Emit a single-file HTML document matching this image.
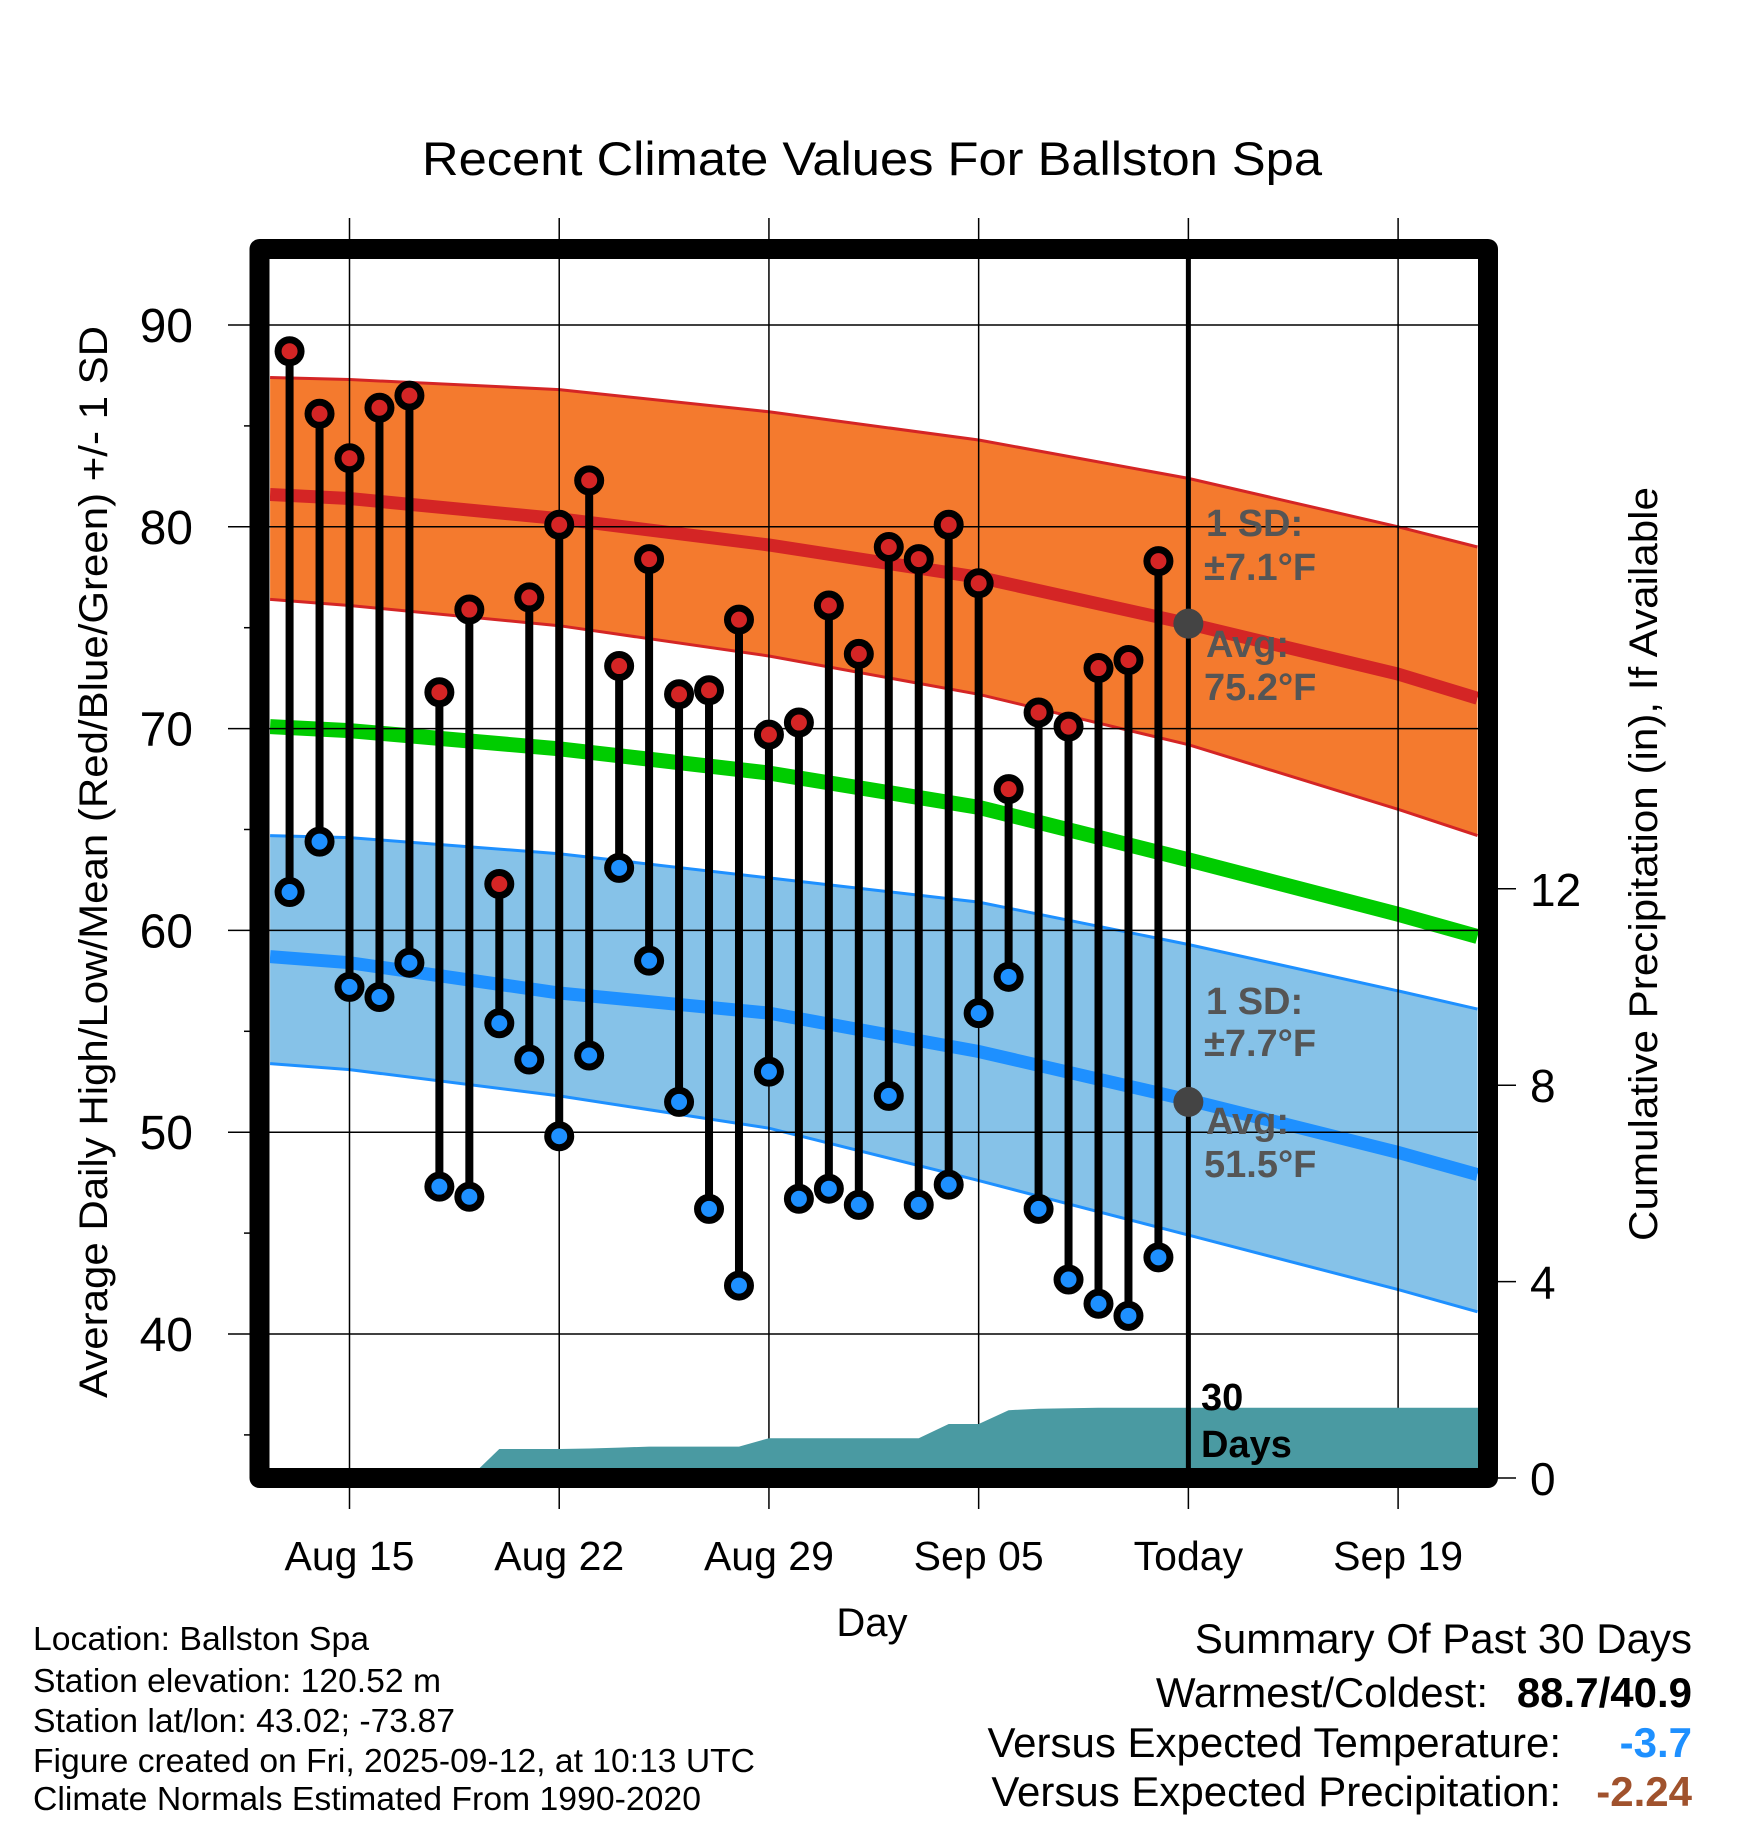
<!DOCTYPE html>
<html><head><meta charset="utf-8"><title>Recent Climate Values For Ballston Spa</title>
<style>html,body{margin:0;padding:0;background:#fff}svg{display:block}text{font-family:"Liberation Sans",Arial,sans-serif}</style></head>
<body>
<svg id="chart" width="1748" height="1828" viewBox="0 0 1748 1828" xmlns="http://www.w3.org/2000/svg">
<defs><clipPath id="plotclip"><rect x="270" y="259" width="1208" height="1209"/></clipPath></defs>
<g id="layer-bands" clip-path="url(#plotclip)"></g>
<g id="layer-grid"></g>
<g id="layer-precip" clip-path="url(#plotclip)"></g>
<g id="layer-marks"></g>
<g id="layer-text">
<text x="872" y="175" font-size="47" text-anchor="middle" textLength="900" lengthAdjust="spacingAndGlyphs">Recent Climate Values For Ballston Spa</text>
<text x="872" y="1636" font-size="40" text-anchor="middle">Day</text>
<text transform="translate(107,862) rotate(-90)" font-size="40" text-anchor="middle" textLength="1072" lengthAdjust="spacingAndGlyphs">Average Daily High/Low/Mean (Red/Blue/Green) +/- 1 SD</text>
<text transform="translate(1657,864) rotate(-90)" font-size="40" text-anchor="middle" textLength="754" lengthAdjust="spacingAndGlyphs">Cumulative Precipitation (in), If Available</text>
<g fill="#555" font-weight="bold" font-size="38">
<text x="1206" y="536">1 SD:</text><text x="1204" y="580">±7.1°F</text>
<text x="1206" y="657">Avg:</text><text x="1204" y="700">75.2°F</text></g>
<g fill="#555" font-weight="bold" font-size="38">
<text x="1206" y="1014">1 SD:</text><text x="1204" y="1056">±7.7°F</text>
<text x="1206" y="1134">Avg:</text><text x="1204" y="1177">51.5°F</text></g>
<g font-weight="bold" font-size="38">
<text x="1201" y="1410">30</text><text x="1201" y="1457">Days</text></g>
<g font-size="33">
<text x="33" y="1650" textLength="336" lengthAdjust="spacingAndGlyphs">Location: Ballston Spa</text>
<text x="33" y="1692" textLength="408" lengthAdjust="spacingAndGlyphs">Station elevation: 120.52 m</text>
<text x="33" y="1732" textLength="422" lengthAdjust="spacingAndGlyphs">Station lat/lon: 43.02; -73.87</text>
<text x="33" y="1772" textLength="722" lengthAdjust="spacingAndGlyphs">Figure created on Fri, 2025-09-12, at 10:13 UTC</text>
<text x="33" y="1810" textLength="668" lengthAdjust="spacingAndGlyphs">Climate Normals Estimated From 1990-2020</text></g>
<g font-size="42">
<text x="1692" y="1653" text-anchor="end">Summary Of Past 30 Days</text>
<text x="1488" y="1707" text-anchor="end">Warmest/Coldest:</text>
<text x="1692" y="1707" text-anchor="end" font-weight="bold">88.7/40.9</text>
<text x="1561" y="1757" text-anchor="end">Versus Expected Temperature:</text>
<text x="1692" y="1757" text-anchor="end" font-weight="bold" fill="#1e90ff">-3.7</text>
<text x="1561" y="1806" text-anchor="end">Versus Expected Precipitation:</text>
<text x="1692" y="1806" text-anchor="end" font-weight="bold" fill="#a0522d">-2.24</text></g>
</g>
<rect x="259.5" y="249" width="1228.5" height="1229" fill="none" stroke="#000" stroke-width="20" stroke-linejoin="round"/>
</svg>
<script>
// ---- data ----
const obsDays = [-2,-1,0,1,2,3,4,5,6,7,8,9,10,11,12,13,14,15,16,17,18,19,20,21,22,23,24,25,26,27];
const highs = [88.7,85.6,83.4,85.9,86.5,71.8,75.9,62.3,76.5,80.1,82.3,73.1,78.4,71.7,71.9,75.4,69.7,70.3,76.1,73.7,79.0,78.4,80.1,77.2,67.0,70.8,70.1,73.0,73.4,78.3];
const lows = [61.9,64.4,57.2,56.7,58.4,47.3,46.8,55.4,53.6,49.8,53.8,63.1,58.5,51.5,46.2,42.4,53.0,46.7,47.2,46.4,51.8,46.4,47.4,55.9,57.7,46.2,42.7,41.5,40.9,43.8];
const normDays = [-2.65,0,7,14,21,28,35,37.65];
const highUpper = [87.4,87.3,86.8,85.7,84.3,82.4,80.0,79.0];
const highMean = [81.6,81.4,80.4,79.1,77.5,75.2,72.7,71.5];
const highLower = [76.4,76.1,75.1,73.6,71.7,69.2,66.0,64.7];
const meanNorm = [70.1,69.9,69.0,67.8,66.1,63.5,60.8,59.7];
const lowUpper = [64.7,64.6,63.8,62.6,61.4,59.3,57.0,56.1];
const lowMean = [58.7,58.4,56.9,55.9,54.0,51.6,49.0,47.9];
const lowLower = [53.4,53.1,51.8,50.2,47.6,44.9,42.2,41.1];
const precipDays = [-3,-2,-1,0,1,2,3,4,5,6,7,8,9,10,11,12,13,14,15,16,17,18,19,20,21,22,23,24,25,26,27,28,38];
const precipCum = [0,0,0,0,0,0,0,0,0.59,0.59,0.59,0.60,0.62,0.64,0.64,0.64,0.64,0.81,0.81,0.81,0.81,0.81,0.81,1.10,1.10,1.38,1.41,1.42,1.43,1.43,1.43,1.43,1.43];
const xTickDays = [0,7,14,21,28,35];
const xTickLabels = ["Aug 15","Aug 22","Aug 29","Sep 05","Today","Sep 19"];
const yTicks = [40,50,60,70,80,90];
const yMinor = [35,45,55,65,75,85];
const pTicks = [0,4,8,12];
const todayDay = 28;
const todayHigh = 75.2, todayLow = 51.5;

// ---- scales ----
const X = d => 349.5 + d*29.96;
const Y = t => 325 + (90-t)*20.18;
const P = p => 1478 - p*49.1;
const NS = "http://www.w3.org/2000/svg";
function mk(tag, parent, attrs){const e=document.createElementNS(NS,tag);for(const k in attrs)e.setAttribute(k,attrs[k]);parent.appendChild(e);return e;}
const pts = arr => arr.map((v,i)=>X(normDays[i]).toFixed(1)+","+Y(v).toFixed(1));
function bandPath(up, lo){const a=pts(up), b=pts(lo).reverse();return "M"+a.join(" L")+" L"+b.join(" L")+" Z";}

const gB = document.getElementById('layer-bands');
let e;
e = mk('path', gB, {d:bandPath(highUpper, highLower), fill:'#f47a2e'});
 
e = mk('path', gB, {d:bandPath(lowUpper, lowLower), fill:'#86c2e8'});
 
[[highUpper,'#d42525',3,'high-upper-edge'],[highLower,'#d42525',3,'high-lower-edge'],[lowUpper,'#1e90ff',3,'low-upper-edge'],[lowLower,'#1e90ff',3,'low-lower-edge'],[highMean,'#d42525',13,'high-mean-line'],[lowMean,'#1e90ff',13,'low-mean-line'],[meanNorm,'#00cc00',15,'mean-line']].forEach(s=>{
  const l = mk('polyline', gB, {points:pts(s[0]).join(" "), fill:'none', stroke:s[1], 'stroke-width':s[2]});
  
  
});

// grid
const gG = document.getElementById('layer-grid');
yTicks.forEach(t=>{
  const l = mk('line', gG, {x1:228, x2:1478, y1:Y(t), y2:Y(t), stroke:'#000', 'stroke-width':1.5});
   
  const tx = mk('text', gG, {x:193, y:Y(t)+17, 'font-size':48, 'text-anchor':'end'});
  tx.textContent = t;
   
});
yMinor.forEach(t=>{
  const l = mk('line', gG, {x1:244, x2:252, y1:Y(t), y2:Y(t), stroke:'#000', 'stroke-width':1.5});
   
});
xTickDays.forEach((d,i)=>{
  const l = mk('line', gG, {x1:X(d), x2:X(d), y1:218, y2:1509, stroke:'#000', 'stroke-width':1.5});
   
  const tx = mk('text', gG, {x:X(d), y:1570, 'font-size':41, 'text-anchor':'middle'});
  tx.textContent = xTickLabels[i];
   
});
pTicks.forEach(p=>{
  const l = mk('line', gG, {x1:1490, x2:1516, y1:P(p), y2:P(p), stroke:'#000', 'stroke-width':1.5});
   
  const tx = mk('text', gG, {x:1530, y:P(p)+17, 'font-size':46});
  tx.textContent = p;
   
});

// precip
const gP = document.getElementById('layer-precip');
let d = "M"+X(precipDays[0])+","+P(0);
precipDays.forEach((dd,i)=>{ d += " L"+X(dd).toFixed(1)+","+P(precipCum[i]).toFixed(1); });
d += " L"+X(precipDays[precipDays.length-1])+","+P(0)+" Z";
e = mk('path', gP, {d:d, fill:'#4a9aa2'});
 

// marks
const gM = document.getElementById('layer-marks');
e = mk('line', gM, {x1:X(todayDay), x2:X(todayDay), y1:259, y2:1468, stroke:'#000', 'stroke-width':5});
 
obsDays.forEach((dd,i)=>{
  const s = mk('line', gM, {x1:X(dd), x2:X(dd), y1:Y(highs[i]), y2:Y(lows[i]), stroke:'#000', 'stroke-width':8});
   
});
obsDays.forEach((dd,i)=>{
  const h = mk('circle', gM, {cx:X(dd), cy:Y(highs[i]), r:11.5, fill:'#d42525', stroke:'#000', 'stroke-width':7});
   
  const lo = mk('circle', gM, {cx:X(dd), cy:Y(lows[i]), r:11.5, fill:'#1e90ff', stroke:'#000', 'stroke-width':7});
   
});
e = mk('circle', gM, {cx:X(todayDay), cy:Y(todayHigh), r:15, fill:'#444'});
 
e = mk('circle', gM, {cx:X(todayDay), cy:Y(todayLow), r:15, fill:'#444'});
 
</script>
</body></html>
